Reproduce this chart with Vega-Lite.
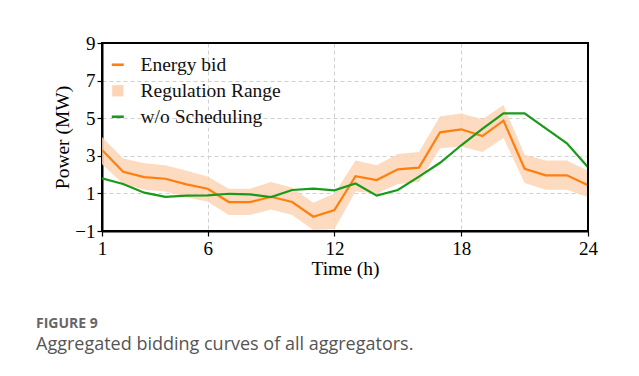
{
  "$schema": "https://vega.github.io/schema/vega-lite/v6.json",
  "width": 486,
  "height": 188,
  "autosize": {"type": "none"},
  "padding": {"left": 102, "top": 43, "right": 51, "bottom": 145},
  "background": "white",
  "title": {
    "text": "FIGURE 9",
    "subtitle": "Aggregated bidding curves of all aggregators.",
    "orient": "bottom",
    "anchor": "start",
    "frame": "group",
    "dx": -66,
    "offset": 39,
    "font": "Open Sans",
    "fontSize": 14,
    "fontWeight": "bold",
    "color": "#666666",
    "subtitleFont": "Open Sans",
    "subtitleFontSize": 18,
    "subtitleColor": "#555555",
    "subtitlePadding": 5
  },
  "data": {
    "values": [
      {"h": 1, "bid": 3.31, "low": 2.55, "high": 4.0, "base": 1.8},
      {"h": 2, "bid": 2.15, "low": 1.5, "high": 2.86, "base": 1.5},
      {"h": 3, "bid": 1.87, "low": 1.2, "high": 2.6, "base": 1.04},
      {"h": 4, "bid": 1.78, "low": 1.1, "high": 2.5, "base": 0.82},
      {"h": 5, "bid": 1.48, "low": 0.8, "high": 2.2, "base": 0.88},
      {"h": 6, "bid": 1.25, "low": 0.55, "high": 1.9, "base": 0.89},
      {"h": 7, "bid": 0.54, "low": -0.15, "high": 1.25, "base": 0.98},
      {"h": 8, "bid": 0.54, "low": -0.15, "high": 1.25, "base": 0.95},
      {"h": 9, "bid": 0.82, "low": 0.15, "high": 1.6, "base": 0.8},
      {"h": 10, "bid": 0.54, "low": -0.15, "high": 1.3, "base": 1.18},
      {"h": 11, "bid": -0.24, "low": -0.95, "high": 0.5, "base": 1.25},
      {"h": 12, "bid": 0.11, "low": -0.9, "high": 1.0, "base": 1.16},
      {"h": 13, "bid": 1.92, "low": 1.1, "high": 2.75, "base": 1.53},
      {"h": 14, "bid": 1.71, "low": 1.0, "high": 2.5, "base": 0.88},
      {"h": 15, "bid": 2.28, "low": 1.5, "high": 3.1, "base": 1.18},
      {"h": 16, "bid": 2.37, "low": 1.6, "high": 3.2, "base": 1.89},
      {"h": 17, "bid": 4.25, "low": 3.4, "high": 5.1, "base": 2.63},
      {"h": 18, "bid": 4.41, "low": 3.5, "high": 5.25, "base": 3.56},
      {"h": 19, "bid": 4.05, "low": 3.2, "high": 4.95, "base": 4.43},
      {"h": 20, "bid": 4.87, "low": 3.95, "high": 5.7, "base": 5.26},
      {"h": 21, "bid": 2.31, "low": 1.55, "high": 3.05, "base": 5.26},
      {"h": 22, "bid": 1.96, "low": 1.2, "high": 2.75, "base": 4.46},
      {"h": 23, "bid": 1.96, "low": 1.2, "high": 2.75, "base": 3.66},
      {"h": 24, "bid": 1.43, "low": 0.8, "high": 2.2, "base": 2.39}
    ]
  },
  "encoding": {
    "x": {
      "field": "h",
      "type": "quantitative",
      "scale": {"domain": [1, 24], "nice": false, "zero": false},
      "axis": {
        "values": [1, 6, 12, 18, 24],
        "tickCount": 20,
        "title": "Time (h)",
        "labelPadding": 3,
        "titlePadding": 1,
        "labelFlush": false,
        "domain": true,
        "domainColor": "#000000",
        "domainWidth": 2,
        "gridOpacity": {"condition": {"test": "datum.value === 1 || datum.value === 24", "value": 0}, "value": 1}
      }
    }
  },
  "layer": [
    {
      "mark": {"type": "area", "opacity": 0.85, "clip": true},
      "encoding": {
        "y": {
          "field": "low",
          "type": "quantitative",
          "scale": {"domain": [-1, 9], "nice": false, "zero": false},
          "axis": {
            "values": [-1, 1, 3, 5, 7, 9],
            "tickCount": 20,
            "title": "Power (MW)",
            "format": "d",
            "titlePadding": 2,
            "labelOverlap": false,
            "domain": true,
            "domainColor": "#000000",
            "domainWidth": 2,
            "gridOpacity": {"condition": {"test": "datum.value === -1 || datum.value === 9", "value": 0}, "value": 1}
          }
        },
        "y2": {"field": "high"},
        "color": {
          "datum": "Regulation Range",
          "scale": {
            "domain": ["Energy bid", "Regulation Range", "w/o Scheduling"],
            "range": ["#ff7f0e", "#fdd5b6", "#1a9a1a"]
          },
          "legend": {
            "title": null,
            "orient": "none",
            "legendX": 6,
            "legendY": 12,
            "padding": 0,
            "symbolType": {"expr": "datum.value === 'Regulation Range' ? 'square' : 'stroke'"},
            "symbolSize": {"expr": "datum.value === 'Regulation Range' ? 115 : 144"},
            "symbolStrokeWidth": {"expr": "datum.value === 'Regulation Range' ? 0.6 : 2.6"},
            "symbolOpacity": 1,
            "labelFont": "Liberation Serif",
            "labelFontSize": 19.5,
            "labelColor": "#111111",
            "rowPadding": 5,
            "labelOffset": 13
          }
        }
      }
    },
    {
      "mark": {"type": "line", "strokeWidth": 2.2, "clip": true},
      "encoding": {
        "y": {
          "field": "bid",
          "type": "quantitative",
          "axis": {
            "values": [-1, 1, 3, 5, 7, 9],
            "tickCount": 20,
            "title": "Power (MW)",
            "format": "d",
            "titlePadding": 2,
            "labelOverlap": false,
            "domain": true,
            "domainColor": "#000000",
            "domainWidth": 2,
            "gridOpacity": {"condition": {"test": "datum.value === -1 || datum.value === 9", "value": 0}, "value": 1}
          }
        },
        "color": {"datum": "Energy bid"}
      }
    },
    {
      "mark": {"type": "line", "strokeWidth": 2.2, "clip": true},
      "encoding": {
        "y": {
          "field": "base",
          "type": "quantitative",
          "axis": {
            "values": [-1, 1, 3, 5, 7, 9],
            "tickCount": 20,
            "title": "Power (MW)",
            "format": "d",
            "titlePadding": 2,
            "labelOverlap": false,
            "domain": true,
            "domainColor": "#000000",
            "domainWidth": 2,
            "gridOpacity": {"condition": {"test": "datum.value === -1 || datum.value === 9", "value": 0}, "value": 1}
          }
        },
        "color": {"datum": "w/o Scheduling"}
      }
    },
    {
      "mark": {"type": "rule", "color": "#000000", "strokeWidth": 2},
      "encoding": {
        "x": {"datum": 24, "type": "quantitative"},
        "y": {"datum": -1, "type": "quantitative"},
        "y2": {"datum": 9}
      }
    },
    {
      "mark": {"type": "rule", "color": "#000000", "strokeWidth": 2},
      "encoding": {
        "y": {"datum": 9, "type": "quantitative"},
        "x": {"datum": 1, "type": "quantitative"},
        "x2": {"datum": 24}
      }
    }
  ],
  "config": {
    "view": {"stroke": "#000000", "strokeWidth": 2},
    "axis": {
      "labelFont": "Liberation Serif",
      "labelFontSize": 19,
      "labelColor": "#000000",
      "titleFont": "Liberation Serif",
      "titleFontSize": 19.5,
      "titleFontWeight": "normal",
      "titleColor": "#000000",
      "tickColor": "#000000",
      "tickSize": 5,
      "tickWidth": 1.2,
      "grid": true,
      "gridColor": "#d0d0d0",
      "gridDash": [4, 3],
      "gridWidth": 1
    },
    "axisY": {"labelOverlap": false},
    "axisQuantitative": {"labelOverlap": false}
  }
}
